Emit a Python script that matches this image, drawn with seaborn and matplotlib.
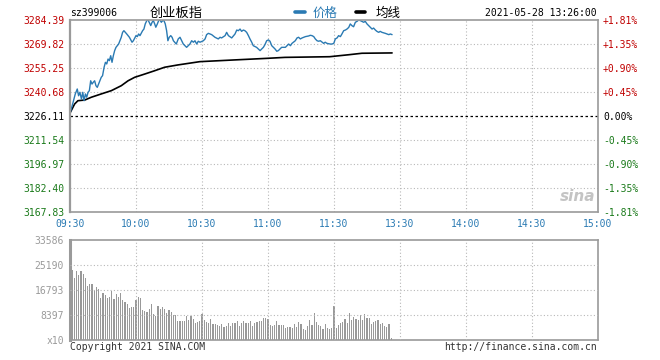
import numpy as np
import pandas as pd
import matplotlib
matplotlib.use("Agg")
import matplotlib.pyplot as plt
from matplotlib.lines import Line2D
import seaborn as sns

# ---------------- data ----------------
y_ticks = [3167.83, 3182.40, 3196.97, 3211.54, 3226.11, 3240.68, 3255.25, 3269.82, 3284.39]
pct_labels = ["-1.81%", "-1.35%", "-0.90%", "-0.45%", "0.00%", "+0.45%", "+0.90%", "+1.35%", "+1.81%"]
x_tick_labels = ["09:30", "10:00", "10:30", "11:00", "11:30", "13:30", "14:00", "14:30", "15:00"]
vol_ticks = [0, 8397, 16793, 25190, 33586]
vol_tick_labels = ["x10", "8397", "16793", "25190", "33586"]

price_min = [0, 1.4, 2.4, 3.3, 3.9, 4.5, 5.2, 5.8, 6.4, 7.0, 7.6, 8.2, 8.8, 9.4, 10.0, 10.6, 11.2, 11.8,
             12.4, 13.0, 13.6, 14.2, 14.8, 15.5, 16.1, 16.7, 17.3, 17.9, 18.5, 19.1, 19.7, 20.3, 20.9,
             21.5, 22.1, 22.7, 23.3, 23.9, 24.5, 25.8, 27.0, 28.2, 28.8, 30.0, 30.6, 31.2, 31.8, 33.0,
             33.6, 34.2, 34.9, 35.5, 36.0, 36.7, 37.3, 37.9, 38.5, 39.0, 39.7, 40.3, 40.9, 41.5, 42.1,
             42.7, 43.3, 43.9, 44.5, 45.1, 45.8, 46.4, 47.0, 47.6, 48.3, 49.2, 50.0, 51.5, 53.0, 54.5,
             55.3, 56.1, 56.8, 57.6, 58.3, 59.1, 60.6, 61.4, 62.1, 62.9, 64.4, 65.9, 67.4, 68.2, 68.9,
             70.5, 71.2, 72.0, 73.5, 75.0, 75.8, 76.5, 77.3, 78.0, 78.8, 79.5, 80.3, 81.1, 81.8, 82.6,
             83.3, 84.8, 86.4, 87.9, 88.6, 89.4, 90.2, 90.9, 91.7, 93.2, 94.0, 94.7, 96.2, 97.9, 99.4,
             100.2, 100.9, 102.4, 103.2, 103.9, 104.7, 105.5, 107.0, 108.5, 109.2, 110.0, 110.8, 111.5,
             112.3, 113.0, 113.8, 115.3, 116.0, 116.8, 118.3, 119.1, 119.9, 120.6, 121.4, 122.1, 122.9,
             123.6, 124.4, 125.2, 125.9, 126.7, 127.4, 128.2, 128.9, 129.7, 130.5, 131.2, 132.0, 133.5,
             134.2, 135.0, 135.8, 136.5, 137.3, 138.0, 138.8, 139.5, 140.3, 141.0, 141.8, 143.3, 144.1,
             144.9, 145.6, 146.4]
price_val = [3227.7, 3234.4, 3239.5, 3242.5, 3238.4, 3240.5, 3236.4, 3240.5, 3235.4, 3239.5, 3237.5,
             3240.5, 3241.5, 3247.5, 3245.5, 3246.6, 3247.5, 3244.5, 3243.5, 3245.5, 3247.5, 3249.6,
             3250.6, 3255.7, 3258.7, 3257.7, 3260.7, 3259.7, 3262.7, 3258.7, 3262.7, 3265.8, 3267.8,
             3268.8, 3269.8, 3271.8, 3273.9, 3276.9, 3277.9, 3275.9, 3273.9, 3270.9, 3271.8, 3274.9,
             3274.3, 3275.9, 3274.9, 3277.9, 3278.9, 3282.0, 3284.0, 3284.4, 3283.0, 3281.0, 3283.0,
             3284.0, 3282.0, 3280.0, 3282.0, 3284.0, 3284.4, 3283.0, 3284.0, 3284.0, 3282.0, 3278.0,
             3271.8, 3273.9, 3274.9, 3273.9, 3271.8, 3270.9, 3269.8, 3272.9, 3273.9, 3269.8, 3267.8,
             3269.8, 3271.8, 3270.9, 3271.8, 3269.8, 3271.5, 3270.9, 3271.8, 3272.9, 3275.5, 3276.3,
             3275.5, 3273.9, 3272.9, 3273.9, 3273.5, 3274.9, 3276.9, 3274.9, 3273.5, 3275.9, 3278.3,
             3277.9, 3278.9, 3277.5, 3278.3, 3277.9, 3276.9, 3274.9, 3272.9, 3270.9, 3268.8, 3267.8,
             3265.8, 3267.8, 3269.4, 3271.8, 3272.3, 3271.5, 3268.8, 3266.8, 3265.4, 3265.8, 3267.8,
             3267.8, 3269.8, 3268.8, 3270.2, 3271.8, 3273.5, 3273.9, 3272.9, 3273.5, 3274.3, 3274.7,
             3275.1, 3274.9, 3274.3, 3272.9, 3271.8, 3271.5, 3271.8, 3270.2, 3270.9, 3270.2, 3269.8,
             3269.8, 3270.2, 3272.9, 3273.5, 3274.9, 3274.3, 3275.9, 3277.9, 3278.3, 3278.9, 3279.9,
             3282.0, 3280.9, 3280.3, 3283.0, 3283.6, 3284.4, 3284.0, 3283.0, 3283.6, 3282.0, 3280.9,
             3279.9, 3278.9, 3279.5, 3278.3, 3277.5, 3276.9, 3277.5, 3276.9, 3276.3, 3275.9, 3275.5,
             3275.9, 3275.5]

avg_min = [0, 2.1, 3.6, 6.7, 9.7, 14.2, 18.8, 23.3, 26.4, 29.4, 34.0, 38.5, 43.0, 49.0, 59.0, 74.0,
           89.4, 97.7, 118.0, 126.7, 132.7, 146.4]
avg_val = [3227.9, 3233.4, 3235.4, 3235.8, 3237.5, 3239.5, 3241.5, 3244.5, 3247.5, 3249.6, 3251.6,
           3253.6, 3255.7, 3257.1, 3259.1, 3260.1, 3261.1, 3261.7, 3262.1, 3263.3, 3264.2, 3264.4]

vol_morning = [23510, 20711, 23286, 21831, 23286, 22167, 20711, 18136, 18808, 18808, 16793, 17689,
               17017, 14000, 15673, 15114, 13994, 14330, 16569, 13770, 15450, 14554, 15897, 13434,
               12874, 12091, 10635, 11195, 10971, 13434, 14330, 13994, 10076, 9852, 9516, 10300,
               12091, 8732, 8061, 11419, 10300, 10971, 10300, 8956, 10076, 9516, 8397, 8397,
               6493, 6381, 6381, 6381, 8172, 6717, 8172, 7053, 5598, 5934, 6381, 8620, 6717, 5934,
               5598, 7053, 5262, 5262, 5038, 4702, 5262, 4254, 4702, 5598, 4702, 5598, 5598, 6381,
               4814, 5598, 6381, 5598, 5598, 6381, 4814, 5598, 6157, 6381, 6381, 7277, 7501, 7053,
               5038, 4814, 5038, 6381, 5038, 5038,
               5038, 3918, 4478, 4478, 3918, 5262, 4478, 5934, 5262, 3694, 3359, 4814, 6717, 5038,
               8956, 5934, 5038, 4702, 3694, 5262, 4142, 3694, 3918]
vol_afternoon = [11520, 4131, 5038, 5598, 6157, 7053, 5598, 8956, 6717, 7613, 7053, 6717, 8397, 6717,
                 8620, 7277, 7277, 5262, 6157, 6381, 6717, 5262, 5598, 4814, 4478, 5262, 784]

# ---------------- build frames ----------------
price_df = pd.DataFrame({"minute": price_min, "price": price_val})
avg_df = pd.DataFrame({"minute": avg_min, "price": avg_val})
vols = vol_morning + vol_afternoon
vol_df = pd.DataFrame({"minute": np.arange(1, len(vols) + 1), "volume": vols})

# ---------------- style ----------------
sns.set_style("white")
plt.rcParams["font.family"] = ["DejaVu Sans Mono", "Noto Sans CJK SC"]

W, H = 660, 360
fig = plt.figure(figsize=(6.6, 3.6), dpi=100)
fig.patch.set_facecolor("white")

def fx(px):
    return px / W

def fy(py):
    return 1 - py / H

L, R = 70, 598
ax = fig.add_axes([fx(L), fy(212), fx(R - L), (212 - 20) / H])
axv = fig.add_axes([fx(L), fy(340), fx(R - L), (340 - 240) / H])

blue = "#2a7ab3"
red = "#c00000"
green = "#1a7a1a"
grid_c = "#b8b8b8"
spine_c = "#9a9a9a"
x_ticks = np.arange(0, 241, 30)

# main price chart
sns.lineplot(data=avg_df, x="minute", y="price", ax=ax, color="black", lw=1.2)
sns.lineplot(data=price_df, x="minute", y="price", ax=ax, color=blue, lw=1.0)
ax.set_xlim(0, 240)
ax.set_ylim(y_ticks[0], y_ticks[-1])
ax.set_xlabel("")
ax.set_ylabel("")
ax.set_yticks(y_ticks)
ax.set_yticklabels([f"{v:.2f}" for v in y_ticks])
ax.set_xticks(x_ticks)
ax.set_xticklabels(x_tick_labels)
ax.tick_params(axis="both", length=0, labelsize=7)
ax.tick_params(axis="y", pad=4.3)
ax.tick_params(axis="x", pad=5, labelcolor=blue)
for lab, v in zip(ax.get_yticklabels(), y_ticks):
    lab.set_color(red if v > 3226.2 else (green if v < 3226.0 else "black"))
for v in y_ticks[1:-1]:
    if abs(v - 3226.11) < 0.01:
        ax.axhline(v, color="black", lw=0.9, ls=(0, (2, 2)), zorder=1)
    else:
        ax.axhline(v, color=grid_c, lw=0.8, ls=(0, (1, 2)), zorder=0)
for v in x_ticks[1:-1]:
    ax.axvline(v, color=grid_c, lw=0.8, ls=(0, (1, 2)), zorder=0)
for s in ax.spines.values():
    s.set_color(spine_c)
    s.set_linewidth(1.2)
ax.spines["left"].set_linewidth(1.6)

ax2 = ax.twinx()
ax2.set_ylim(ax.get_ylim())
ax2.set_yticks(y_ticks)
ax2.set_yticklabels(pct_labels)
ax2.tick_params(axis="y", length=0, labelsize=7, pad=3.6)
for lab, v in zip(ax2.get_yticklabels(), y_ticks):
    lab.set_color(red if v > 3226.2 else (green if v < 3226.0 else "black"))
for s in ax2.spines.values():
    s.set_visible(False)

# sina watermark
ax.text(0.995, 0.08, "sina", transform=ax.transAxes, ha="right", va="center",
        fontsize=11, fontstyle="italic", fontweight="bold", color="#c4c4c4",
        family="DejaVu Sans", zorder=0)

# volume chart
sns.barplot(data=vol_df, x="minute", y="volume", ax=axv, native_scale=True,
            color="#999999", width=0.55, saturation=1, errorbar=None, linewidth=0)
for p in axv.patches:
    p.set_antialiased(False)
    p.set_edgecolor("none")
axv.set_xlim(0, 240)
axv.set_ylim(0, 33586)
axv.set_xlabel("")
axv.set_ylabel("")
axv.set_yticks(vol_ticks)
axv.set_yticklabels(vol_tick_labels)
axv.set_xticks([])
axv.tick_params(axis="y", length=0, labelsize=7, pad=4.3, labelcolor="#9a9a9a")
for v in vol_ticks[1:-1]:
    axv.axhline(v, color=grid_c, lw=0.8, ls=(0, (1, 2)), zorder=3)
for v in x_ticks[1:-1]:
    axv.axvline(v, color=grid_c, lw=0.8, ls=(0, (1, 2)), zorder=3)
for s in axv.spines.values():
    s.set_color(spine_c)
    s.set_linewidth(1.2)
axv.spines["left"].set_linewidth(2.2)

# header texts
fig.text(fx(70), fy(13), "sz399006", ha="left", va="center", fontsize=7, color="black")
fig.text(fx(176), fy(13), "创业板指", ha="center", va="center", fontsize=9.5, color="black",
         family=["Noto Sans CJK SC", "DejaVu Sans"])
fig.add_artist(Line2D([fx(295), fx(305)], [fy(12), fy(12)], color=blue, lw=2.6))
fig.text(fx(313), fy(13), "价格", ha="left", va="center", fontsize=9, color=blue,
         family=["Noto Sans CJK SC", "DejaVu Sans"])
fig.add_artist(Line2D([fx(356), fx(365)], [fy(12), fy(12)], color="black", lw=2.6))
fig.text(fx(376), fy(13), "均线", ha="left", va="center", fontsize=9, color="black",
         family=["Noto Sans CJK SC", "DejaVu Sans"])
fig.text(fx(597), fy(13), "2021-05-28 13:26:00", ha="right", va="center", fontsize=7, color="black")

# footer texts
fig.text(fx(70), fy(347), "Copyright 2021 SINA.COM", ha="left", va="center", fontsize=7, color="#333333")
fig.text(fx(597), fy(347), "http://finance.sina.com.cn", ha="right", va="center", fontsize=7, color="#333333")

fig.savefig("out.png", dpi=100, facecolor="white")
